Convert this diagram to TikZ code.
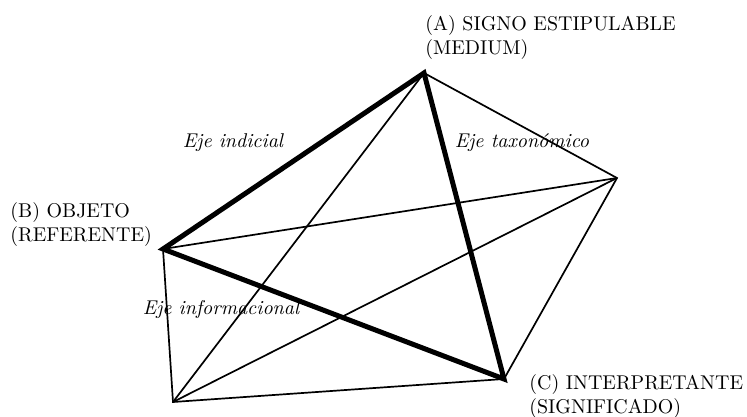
\documentclass[tikz,border=0pt]{standalone}
\usepackage{tikz}
\usetikzlibrary{positioning,calc}

\begin{document}
\begin{tikzpicture}[
  x=0.5bp, y=-0.5bp,
  axis/.style={line width=2.5bp, line join=miter},
  edge/.style={line width=0.85bp},
  vertex/.style={align=left, inner sep=0pt, font=\normalsize},
  axislabel/.style={font=\itshape, inner sep=1pt}
]
\useasboundingbox (0,0) rectangle (747,417);
% vertices
\coordinate (signo) at (424,73);
\coordinate (objeto) at (163,249);
\coordinate (interp) at (504,379);
\coordinate (right) at (617,178);
\coordinate (bottom) at (173,402);
% thin lines
\draw[edge] (signo) -- (right) -- (interp);
\draw[edge] (objeto) -- (bottom) -- (interp);
\draw[edge] (bottom) -- (signo);
\draw[edge] (bottom) -- (right);
\draw[edge] (objeto) -- (right);
% thick axes
\draw[axis] (objeto) -- (signo) -- (interp) -- cycle;
% labels
\node[vertex, anchor=north west] (signotxt) at (425,15)
  {(A) SIGNO ESTIPULABLE\\(MEDIUM)};
\node[vertex, anchor=north west] (objetotxt) at (10,202)
  {(B) OBJETO\\(REFERENTE)};
\node[vertex, anchor=north west] (interptxt) at (529,374)
  {(C) INTERPRETANTE\\(SIGNIFICADO)};
\node[axislabel] (indicial) at (233,143) {Eje indicial};
\node[axislabel] (taxon) at (522,143) {Eje taxonómico};
\node[axislabel] (inform) at (221,310) {Eje informacional};
\end{tikzpicture}
\end{document}
